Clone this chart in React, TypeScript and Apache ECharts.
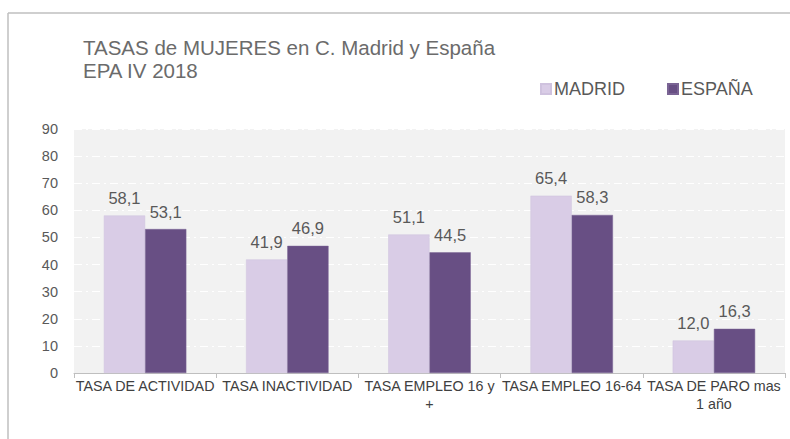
import React, { useEffect, useRef } from "react";
import * as echarts from "echarts";

const categories = [
  "TASA DE ACTIVIDAD",
  "TASA INACTIVIDAD",
  "TASA EMPLEO 16 y\n+",
  "TASA EMPLEO 16-64",
  "TASA DE PARO mas\n1 año",
];
const madrid = [58.1, 41.9, 51.1, 65.4, 12.0];
const espana = [53.1, 46.9, 44.5, 58.3, 16.3];
const seriesNames = ["MADRID", "ESPAÑA"];
const titleLines = ["TASAS de MUJERES en C. Madrid y España", "EPA IV 2018"];

const FONT = "'Liberation Sans', Arial, sans-serif";

export default function App() {
  const ref = useRef<HTMLDivElement>(null);
  useEffect(() => {
    if (!ref.current) return;
    const chart = echarts.init(ref.current, undefined, { renderer: "svg" });
    const fmt = (p: any) => Number(p.value).toFixed(1).replace(".", ",");
    chart.setOption({
      animation: false,
      textStyle: { fontFamily: FONT },
      title: {
        text: titleLines.join("\n"),
        left: 83,
        top: 36,
        padding: 0,
        textStyle: {
          fontFamily: FONT,
          fontSize: 20.5,
          fontWeight: "normal",
          color: "#6b6b6b",
          lineHeight: 23,
        },
      },
      legend: {
        data: seriesNames,
        left: 540,
        top: 80,
        padding: 0,
        itemWidth: 10,
        itemHeight: 10,
        itemGap: 42,
        icon: "rect",
        textStyle: { fontFamily: FONT, fontSize: 18, color: "#595959", padding: [0, 0, 0, -2] },
      },
      grid: { left: 74, right: 5, top: 129, bottom: 66, backgroundColor: "#f2f2f2", show: true, borderWidth: 0 },
      xAxis: {
        type: "category",
        data: categories,
        axisLine: { show: true, lineStyle: { color: "#bfbfbf", width: 1 } },
        axisTick: { show: true, alignWithLabel: false, length: 5, lineStyle: { color: "#bfbfbf" } },
        axisLabel: {
          interval: 0,
          fontFamily: FONT,
          fontSize: 14.3,
          color: "#404040",
          margin: 4,
          lineHeight: 18,
        },
      },
      yAxis: {
        type: "value",
        min: 0,
        max: 90,
        interval: 10,
        axisLine: { show: false },
        axisTick: { show: false },
        axisLabel: { fontFamily: FONT, fontSize: 14.5, color: "#595959", margin: 16 },
        splitLine: { show: true, lineStyle: { color: "#ffffff", type: [8, 4, 2, 4], width: 1 } },
      },
      series: [
        {
          name: seriesNames[0],
          type: "bar",
          data: madrid,
          barGap: "0%",
          barCategoryGap: "42%",
          itemStyle: { color: "#d9cce6", borderColor: "#cfc2de", borderWidth: 0.5 },
          label: { show: true, position: "top", formatter: fmt, fontFamily: FONT, fontSize: 16.5, color: "#595959", distance: 9 },
        },
        {
          name: seriesNames[1],
          type: "bar",
          data: espana,
          itemStyle: { color: "#684f84", borderColor: "#7a6494", borderWidth: 0.5 },
          label: { show: true, position: "top", formatter: fmt, fontFamily: FONT, fontSize: 16.5, color: "#595959", distance: 9 },
        },
      ],
      graphic: [
        { type: "line", shape: { x1: 8, y1: 13, x2: 790, y2: 13 }, style: { stroke: "#bfbfbf", lineWidth: 1.5 } },
        { type: "line", shape: { x1: 8, y1: 13, x2: 8, y2: 439 }, style: { stroke: "#bfbfbf", lineWidth: 1.5 } },
      ],
    });
    return () => chart.dispose();
  }, []);
  return (
    <div
      ref={ref}
      style={{ position: "fixed", left: 0, top: 0, width: 790, height: 439, background: "#ffffff" }}
    />
  );
}
